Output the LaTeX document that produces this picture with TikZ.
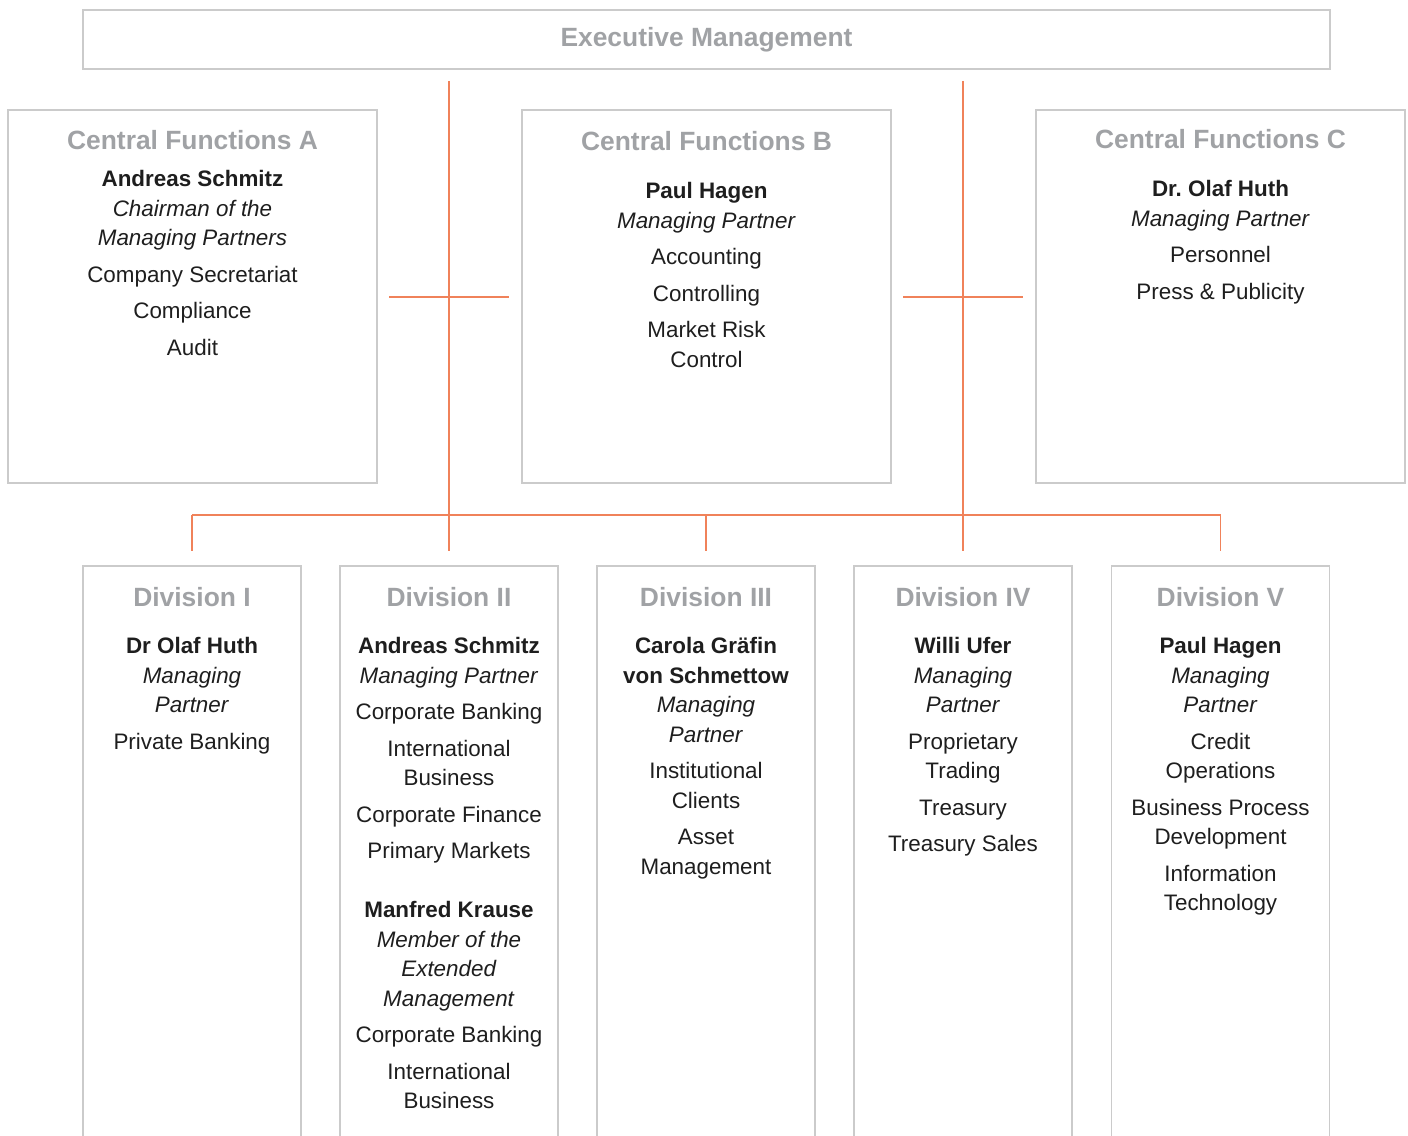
\documentclass[tikz,border=0pt]{standalone}
\usepackage{fontspec}
\setmainfont{Liberation Sans}
\usetikzlibrary{positioning,calc}
\definecolor{linkorange}{HTML}{F0825A}
\definecolor{boxgray}{HTML}{CBCBCB}
\definecolor{titlegray}{HTML}{A0A2A5}
\definecolor{textblack}{HTML}{1E1E1E}
\tikzstyle{unit} = [draw=boxgray, line width=0.75pt, inner sep=0pt]
\tikzstyle{head} = [font=\fontsize{13.2}{16}\selectfont\bfseries, text=titlegray, anchor=base, inner sep=0pt]
\tikzstyle{body} = [font=\fontsize{11.2}{14.75}\selectfont, text=textblack, align=center, anchor=north, inner sep=0pt]
\tikzstyle{link} = [draw=linkorange, line width=0.7pt]
\def\who(#1){\textbf{#1}}
\def\role(#1){\textit{#1}}
\def\gap{\\[3.5pt]}
\frenchspacing
\begin{document}
\begin{tikzpicture}[x=0.5pt, y=-0.5pt]
      \useasboundingbox (0,0) rectangle (1408,1135);
      % top and central functions
      \node (exec) [unit, minimum width=623.5pt, minimum height=29.5pt] at (706.5,39.5) {};
      \node (cfa) [unit, minimum width=184.5pt, minimum height=186.5pt] at (192.5,296.5) {};
      \node (cfb) [unit, minimum width=184.5pt, minimum height=186.5pt] at (706.5,296.5) {};
      \node (cfc) [unit, minimum width=184.5pt, minimum height=186.5pt] at (1220.5,296.5) {};
      % divisions (run off the page at the bottom)
      \node (div1) [unit, minimum width=109pt, minimum height=297pt] at (192,863) {};
      \node (div2) [unit, minimum width=109pt, minimum height=297pt] at (449,863) {};
      \node (div3) [unit, minimum width=109pt, minimum height=297pt] at (706,863) {};
      \node (div4) [unit, minimum width=109pt, minimum height=297pt] at (963,863) {};
      \node (div5) [unit, minimum width=109pt, minimum height=297pt] at (1220.5,863) {};
      % titles
      \node (texec) [head] at (706.5,46.5) {Executive Management};
      \node (tcfa) [head] at (192.5,149.5) {Central Functions A};
      \node (tcfb) [head] at (706.5,150.5) {Central Functions B};
      \node (tcfc) [head] at (1220.5,148.5) {Central Functions C};
      \node (tdiv1) [head] at (192,606.5) {Division I};
      \node (tdiv2) [head] at (449,606.5) {Division II};
      \node (tdiv3) [head] at (706,606.5) {Division III};
      \node (tdiv4) [head] at (963,606.5) {Division IV};
      \node (tdiv5) [head] at (1220.5,606.5) {Division V};
      % contents
      \node (bcfa) [body] at (192.5,170) {\who(Andreas Schmitz)\\\role(Chairman of the)\\\role(Managing Partners)\gap
        Company Secretariat\gap Compliance\gap Audit};
      \node (bcfb) [body] at (706.5,182) {\who(Paul Hagen)\\\role(Managing Partner)\gap
        Accounting\gap Controlling\gap Market Risk\\Control};
      \node (bcfc) [body] at (1220.5,180) {\who(Dr. Olaf Huth)\\\role(Managing Partner)\gap
        Personnel\gap Press \& Publicity};
      \node (bdiv1) [body] at (192,637) {\who(Dr Olaf Huth)\\\role(Managing)\\\role(Partner)\gap
        Private Banking};
      \node (bdiv2) [body] at (449,637) {\who(Andreas Schmitz)\\\role(Managing Partner)\gap
        Corporate Banking\gap International\\Business\gap Corporate Finance\gap Primary Markets\\[14.75pt]
        \who(Manfred Krause)\\\role(Member of the)\\\role(Extended)\\\role(Management)\gap
        Corporate Banking\gap International\\Business};
      \node (bdiv3) [body] at (706,637) {\who(Carola Gräfin)\\\who(von Schmettow)\\\role(Managing)\\\role(Partner)\gap
        Institutional\\Clients\gap Asset\\Management};
      \node (bdiv4) [body] at (963,637) {\who(Willi Ufer)\\\role(Managing)\\\role(Partner)\gap
        Proprietary\\Trading\gap Treasury\gap Treasury Sales};
      \node (bdiv5) [body] at (1220.5,637) {\who(Paul Hagen)\\\role(Managing)\\\role(Partner)\gap
        Credit\\Operations\gap Business Process\\Development\gap Information\\Technology};
      % connector points
      \coordinate (s1) at ($(exec.south)+(-257.5,11)$);
      \coordinate (s2) at ($(exec.south)+(256.5,11)$);
      \coordinate (busl) at (192,515);
      \coordinate (busr) at (1220.5,515);
      \coordinate (x1l) at (389,297);
      \coordinate (x1r) at (509,297);
      \coordinate (x2l) at (903,297);
      \coordinate (x2r) at (1023,297);
      % connectors
      \draw[link] (s1)--($(div2.north)+(0,-14)$);
      \draw[link] (s2)--($(div4.north)+(0,-14)$);
      \draw[link] (x1l)--(x1r);
      \draw[link] (x2l)--(x2r);
      \draw[link] (busl)--(busr);
      \draw[link] (busl)--($(div1.north)+(0,-14)$);
      \draw[link] (div3.north |- busl)--($(div3.north)+(0,-14)$);
      \draw[link] (busr)--($(div5.north)+(0,-14)$);
\end{tikzpicture}
\end{document}
